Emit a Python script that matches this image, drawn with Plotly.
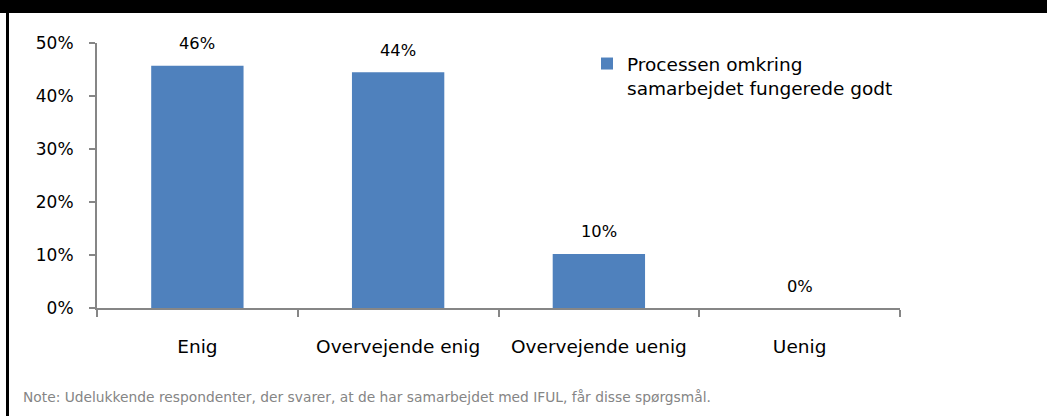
import plotly.graph_objects as go

categories = ["Enig", "Overvejende enig", "Overvejende uenig", "Uenig"]
values = [0.457, 0.445, 0.102, 0.0]
labels = ["46%", "44%", "10%", "0%"]
series_name = "Processen omkring<br>samarbejdet fungerede godt"
y_ticks = [0, 0.1, 0.2, 0.3, 0.4, 0.5]
y_tick_text = ["0%", "10%", "20%", "30%", "40%", "50%"]
note = "Note: Udelukkende respondenter, der svarer, at de har samarbejdet med IFUL, får disse spørgsmål."

W, H = 1047, 416
ML, MR, MT, MB = 97, 147, 43, 108
PW, PH = W - ML - MR, H - MT - MB

def px_x(px):
    return (px - ML) / PW

def px_y(py):
    return (H - MB - py) / PH

FONT = "DejaVu Sans"

fig = go.Figure()
fig.add_trace(go.Bar(
    x=categories, y=values, name=series_name,
    marker=dict(color="#4f81bd", line=dict(width=0)),
    width=0.46, showlegend=True,
))

for c, v, t in zip(categories, values, labels):
    fig.add_annotation(x=c, y=v, text=t, showarrow=False, yshift=22,
                       yanchor="middle", font=dict(family=FONT, size=16.3, color="#000000"))

fig.add_annotation(xref="paper", yref="paper", x=px_x(21), y=px_y(397), text=note,
                   showarrow=False, xanchor="left", yanchor="middle",
                   font=dict(family=FONT, size=13.8, color="#858585"))

# frame: black top bar and left border
fig.add_shape(type="rect", xref="paper", yref="paper", x0=px_x(0), x1=px_x(W), y0=px_y(13), y1=px_y(0),
              fillcolor="#000000", line=dict(width=0), layer="above")
fig.add_shape(type="rect", xref="paper", yref="paper", x0=px_x(6), x1=px_x(9), y0=px_y(H), y1=px_y(13),
              fillcolor="#000000", line=dict(width=0), layer="above")

fig.update_layout(
    width=W, height=H,
    margin=dict(l=ML, r=MR, t=MT, b=MB),
    paper_bgcolor="#ffffff", plot_bgcolor="#ffffff",
    font=dict(family=FONT, size=16, color="#000000"),
    bargap=0.54,
    showlegend=True,
    legend=dict(x=px_x(587), y=px_y(45), xanchor="left", yanchor="top",
                font=dict(family=FONT, size=18.5, color="#000000"),
                bgcolor="rgba(0,0,0,0)", borderwidth=0, valign="top",
                itemwidth=30, tracegroupgap=0),
    xaxis=dict(showgrid=False, showline=True, linecolor="#868686", linewidth=2,
               ticks="outside", tickson="boundaries", ticklen=7, tickcolor="#868686", tickwidth=2,
               tickfont=dict(family=FONT, size=18.5, color="#000000"), ticklabelstandoff=21,
               fixedrange=True),
    yaxis=dict(range=[0, 0.5], tickvals=y_ticks, ticktext=y_tick_text, showgrid=False,
               showline=True, linecolor="#868686", linewidth=2,
               ticks="outside", ticklen=6, tickcolor="#868686", tickwidth=2,
               tickfont=dict(family=FONT, size=17, color="#000000"), ticklabelstandoff=12,
               zeroline=False, fixedrange=True),
)

fig.write_html("out.html", config={"displayModeBar": False},
               post_script="document.body.style.margin='0';document.body.style.overflow='hidden';")
